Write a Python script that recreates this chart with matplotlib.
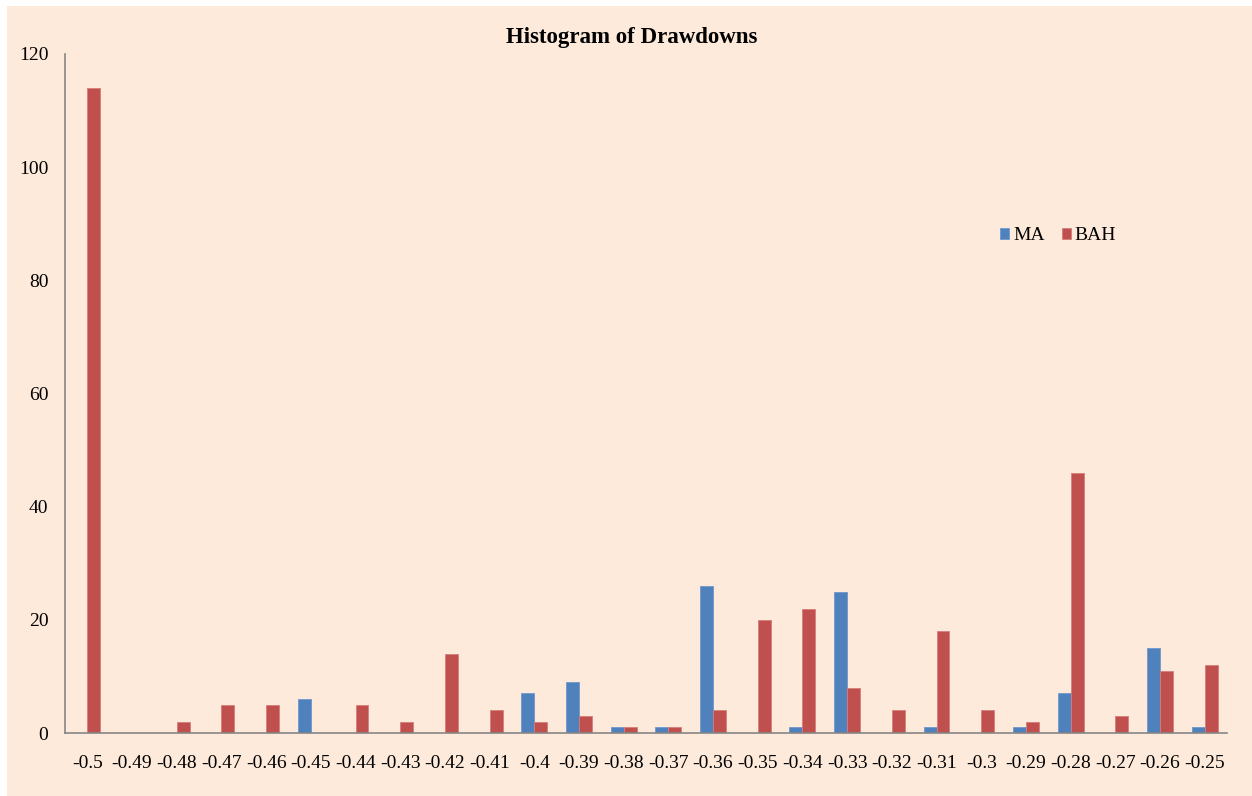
import numpy as np
import matplotlib.pyplot as plt
from matplotlib.patches import Rectangle

plt.rcParams['font.family'] = ['Liberation Serif', 'DejaVu Serif']

bins = ['-0.5', '-0.49', '-0.48', '-0.47', '-0.46', '-0.45', '-0.44', '-0.43', '-0.42',
        '-0.41', '-0.4', '-0.39', '-0.38', '-0.37', '-0.36', '-0.35', '-0.34', '-0.33',
        '-0.32', '-0.31', '-0.3', '-0.29', '-0.28', '-0.27', '-0.26', '-0.25']
ma = [0, 0, 0, 0, 0, 6, 0, 0, 0, 0, 7, 9, 1, 1, 26, 0, 1, 25, 0, 1, 0, 1, 7, 0, 15, 1]
bah = [114, 0, 2, 5, 5, 0, 5, 2, 14, 4, 2, 3, 1, 1, 4, 20, 22, 8, 4, 18, 4, 2, 46, 3, 11, 12]

BG = '#FDEADA'
BLUE = '#4F81BD'
RED = '#C0504D'

fig = plt.figure(figsize=(12.52, 7.96), dpi=100, facecolor='white')
# peach chart area, leaving a thin white strip on the top and left
fig.patches.append(Rectangle((7 / 1252, 0), 1 - 7 / 1252, 1 - 6 / 796,
                             transform=fig.transFigure, facecolor=BG,
                             edgecolor='none', zorder=-5))

ax = fig.add_axes([65 / 1252, 1 - 733 / 796, (1227 - 65) / 1252, (733 - 54) / 796])
ax.set_facecolor(BG)

x = np.arange(len(bins))
w = 0.29
ax.bar(x - w / 2, ma, w, color=BLUE, edgecolor='#6f97cc', linewidth=0.6, label='MA')
ax.bar(x + w / 2, bah, w, color=RED, edgecolor='#d77d7a', linewidth=0.6, label='BAH')

ax.set_xlim(-0.5, len(bins) - 0.5)
ax.set_ylim(0, 120)
ax.set_yticks(np.arange(0, 121, 20))
ax.set_xticks(x)
ax.set_xticklabels(bins)
ax.tick_params(axis='both', length=0, labelsize=14)
ax.tick_params(axis='x', pad=16)
ax.tick_params(axis='y', pad=12)

for side in ['top', 'right']:
    ax.spines[side].set_visible(False)
for side in ['left', 'bottom']:
    ax.spines[side].set_color('#868686')
    ax.spines[side].set_linewidth(1.2)

fig.text(0.5045, 1 - 37 / 796, 'Histogram of Drawdowns', ha='center', va='center',
         fontsize=16.5, fontweight='bold')

ax.legend(loc='center left', bbox_to_anchor=(0.79, 0.732), ncol=2, frameon=False,
          fontsize=14, handlelength=0.45, handleheight=0.45, handletextpad=0.2,
          columnspacing=0.9)

fig.savefig('out.png', dpi=100, facecolor=fig.get_facecolor())
